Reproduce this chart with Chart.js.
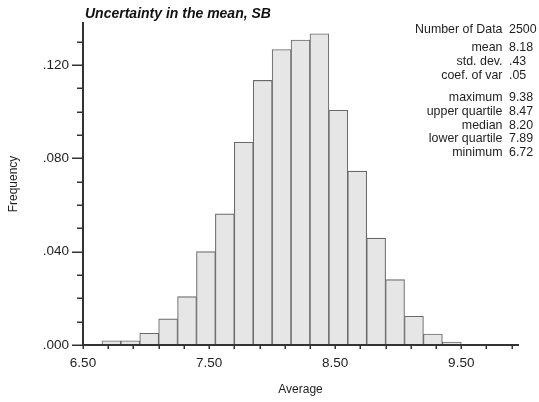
<!DOCTYPE html>
<html>
<head>
<meta charset="utf-8">
<script src="https://cdn.jsdelivr.net/npm/chart.js@4.4.0/dist/chart.umd.min.js"></script>
<style>
html,body{margin:0;padding:0;background:#fff;}
#wrap{width:539px;height:402px;position:relative;}
</style>
</head>
<body>
<div id="wrap"><canvas id="c" width="539" height="402"></canvas></div>
<script>
// ---- data ----
const binLowerEdges = [6.65, 6.80, 6.95, 7.10, 7.25, 7.40, 7.55, 7.70, 7.85, 8.00,
                       8.15, 8.30, 8.45, 8.60, 8.75, 8.90, 9.05, 9.20, 9.35];
const binWidth = 0.15;
const frequencies = [0.0018, 0.0018, 0.0050, 0.0112, 0.0207, 0.0400, 0.0562, 0.0869, 0.1134, 0.1266,
                     0.1307, 0.1334, 0.1006, 0.0745, 0.0458, 0.0280, 0.0123, 0.0047, 0.0013];
const xTickValues = [6.5, 6.7, 6.9, 7.1, 7.3, 7.5, 7.7, 7.9, 8.1, 8.3, 8.5, 8.7, 8.9, 9.1, 9.3, 9.5, 9.7, 9.9];
const xMajorTicks = [6.5, 7.5, 8.5, 9.5];
const yTickValues = [0, 0.01, 0.02, 0.03, 0.04, 0.05, 0.06, 0.07, 0.08, 0.09, 0.10, 0.11, 0.12, 0.13];
const yMajorTicks = [0, 0.04, 0.08, 0.12];
const chartTitle = 'Uncertainty in the mean, SB';
const xTitle = 'Average';
const yTitle = 'Frequency';
const statLabels = ['Number of Data', 'mean', 'std. dev.', 'coef. of var', 'maximum', 'upper quartile', 'median', 'lower quartile', 'minimum'];
const statValues = ['2500', '8.18', '.43', '.05', '9.38', '8.47', '8.20', '7.89', '6.72'];

// ---- helpers ----
const near = (a, b) => Math.abs(a - b) < 1e-6;
const isMajor = (list, v) => list.some(m => near(m, v));
const TEXT = '#1e1e1e';
const AXIS = '#333333';
const FONT = "'Liberation Sans', Arial, Helvetica, sans-serif";

const decorPlugin = {
  id: 'decor',
  afterDraw(chart) {
    const ctx = chart.ctx;
    const xs = chart.scales.x, ys = chart.scales.y;
    const area = chart.chartArea;
    ctx.save();
    // ticks
    ctx.strokeStyle = AXIS;
    ctx.lineWidth = 1.5;
    ctx.beginPath();
    yTickValues.forEach(v => {
      const py = Math.round(ys.getPixelForValue(v)) + 0.25;
      const len = isMajor(yMajorTicks, v) ? 11 : 6;
      ctx.moveTo(area.left - len, py);
      ctx.lineTo(area.left, py);
    });
    xTickValues.forEach(v => {
      const px = Math.round(xs.getPixelForValue(v)) + 0.25;
      ctx.moveTo(px, area.bottom);
      ctx.lineTo(px, area.bottom + 4);
    });
    ctx.stroke();
    // title
    ctx.fillStyle = '#111';
    ctx.font = "italic bold 14px " + FONT;
    ctx.textAlign = 'left';
    ctx.textBaseline = 'alphabetic';
    ctx.fillText(chartTitle, 85, 17.5);
    // statistics block
    const rowY = [32.6, 51, 65.3, 79.3, 101, 115, 128.6, 142.3, 156];
    ctx.font = "12.4px " + FONT;
    ctx.fillStyle = TEXT;
    statLabels.forEach((lab, i) => {
      ctx.textAlign = 'right';
      ctx.fillText(lab, 502.5, rowY[i]);
      ctx.textAlign = 'left';
      ctx.fillText(statValues[i], 509, rowY[i]);
    });
    ctx.restore();
  }
};

const points = binLowerEdges.map((e, i) => ({ x: e + binWidth / 2, y: frequencies[i] }));

new Chart(document.getElementById('c'), {
  type: 'bar',
  data: {
    datasets: [{
      data: points,
      backgroundColor: '#e6e6e6',
      borderColor: '#6a6a6a',
      borderWidth: 1.1,
      barPercentage: 1,
      categoryPercentage: 1,
      grouped: false
    }]
  },
  options: {
    responsive: false,
    animation: false,
    devicePixelRatio: 1,
    layout: { padding: { top: 23, right: 21, left: 0, bottom: 0 } },
    plugins: { legend: { display: false }, tooltip: { enabled: false }, title: { display: false } },
    scales: {
      x: {
        type: 'linear',
        min: 6.5,
        max: 9.95,
        offset: false,
        afterBuildTicks: s => { s.ticks = xTickValues.map(v => ({ value: v })); },
        afterFit: s => { s.height = 57; },
        grid: { display: false, drawTicks: false },
        border: { display: true, color: AXIS, width: 2, z: 2 },
        ticks: {
          autoSkip: false, maxRotation: 0, minRotation: 0, padding: 10,
          color: TEXT, font: { family: FONT, size: 13.5 },
          callback: v => isMajor(xMajorTicks, v) ? v.toFixed(2) : ''
        },
        title: { display: true, text: xTitle, color: TEXT, font: { family: FONT, size: 12 }, padding: { top: 0, bottom: 5 } }
      },
      y: {
        type: 'linear',
        min: 0,
        max: 0.138,
        afterBuildTicks: s => { s.ticks = yTickValues.map(v => ({ value: v })); },
        afterFit: s => { s.width = 83; },
        grid: { display: false, drawTicks: false },
        border: { display: true, color: AXIS, width: 2, z: 2 },
        ticks: {
          autoSkip: false, padding: 14,
          color: TEXT, font: { family: FONT, size: 13.5 },
          callback: v => isMajor(yMajorTicks, v) ? v.toFixed(3).replace(/^0/, '') : ''
        },
        title: { display: true, text: yTitle, color: TEXT, font: { family: FONT, size: 12 }, padding: { top: 6, bottom: 0 } }
      }
    }
  },
  plugins: [decorPlugin]
});
</script>
</body>
</html>
